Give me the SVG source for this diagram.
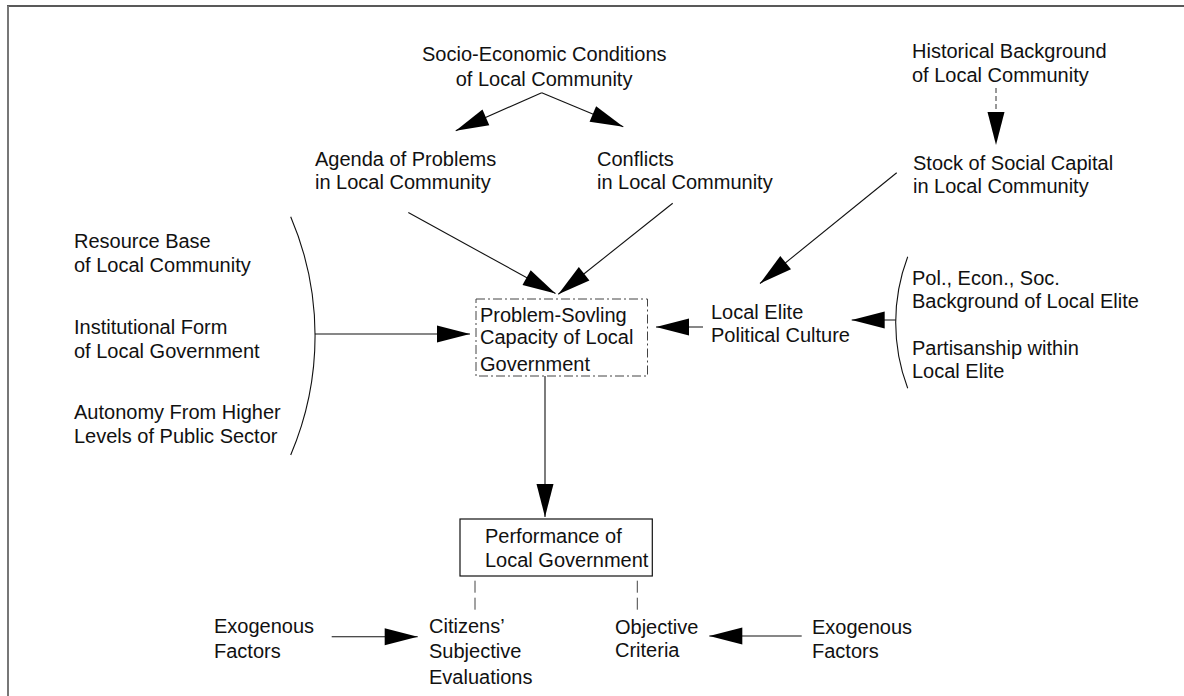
<svg xmlns="http://www.w3.org/2000/svg" width="1184" height="696" viewBox="0 0 1184 696">
<style>
  text { font-family: "Liberation Sans", Arial, sans-serif; font-size: 20px; fill: #111; }
  .ln { stroke: #111; stroke-width: 1.1; fill: none; }
  .arr { marker-end: url(#head); }
  .dash { stroke: #333; stroke-width: 1; stroke-dasharray: 5 3; fill: none; }
  .ldash { stroke: #444; stroke-width: 1; stroke-dasharray: 12 5; fill: none; }
</style>
<defs>
  <marker id="head" markerUnits="userSpaceOnUse" markerWidth="34" markerHeight="18" refX="33" refY="8.5" orient="auto" overflow="visible">
    <path d="M0,0 L33,8.5 L0,17 z" fill="#000"/>
  </marker>
</defs>
<rect width="1184" height="696" fill="#fff"/>
<g id="frame">
  <line x1="7" y1="6" x2="1184" y2="6" stroke="#222" stroke-width="1.6"/>
  <line x1="8" y1="6" x2="8" y2="696" stroke="#777" stroke-width="2"/>
</g>
<g id="connectors">
  <line class="ln arr" x1="541.7" y1="92.7" x2="455.7" y2="130.7"/>
  <line class="ln arr" x1="541.7" y1="92.7" x2="623.3" y2="126.7"/>
  <line class="dash" x1="996" y1="88" x2="996" y2="116"/>
  <path d="M987.5,112 L996,145 L1004.5,112 z" fill="#000"/>
  <line class="ln arr" x1="408.3" y1="212.5" x2="555.5" y2="293.5"/>
  <line class="ln arr" x1="672.7" y1="203.3" x2="558.3" y2="294.3"/>
  <line class="ln arr" x1="896.7" y1="172.7" x2="760" y2="283.5"/>
  <path class="ln" d="M290.7,216.7 A303.5,303.5 0 0 1 290.7,455"/>
  <line class="ln arr" x1="315" y1="334" x2="470" y2="334"/>
  <path class="ln" d="M907.7,256.7 A186.4,186.4 0 0 0 907.7,388.3"/>
  <line class="ln arr" x1="895.7" y1="320" x2="851.7" y2="320"/>
  <line class="ln arr" x1="703" y1="327" x2="656" y2="327"/>
  <line class="ln arr" x1="545" y1="376" x2="545" y2="517"/>
  <line class="ldash" x1="475" y1="580.7" x2="475" y2="613"/>
  <line class="ldash" x1="637.3" y1="580.7" x2="637.3" y2="613"/>
  <line class="ln arr" x1="331.7" y1="636.7" x2="417.7" y2="636.7"/>
  <line class="ln arr" x1="801.7" y1="636" x2="709.3" y2="636"/>
</g>
<g id="n-socio">
  <text x="422" y="61">Socio-Economic Conditions</text>
  <text x="455.7" y="86">of Local Community</text>
</g>
<g id="n-historical">
  <text x="912" y="58">Historical Background</text>
  <text x="912" y="82">of Local Community</text>
</g>
<g id="n-agenda">
  <text x="315" y="166">Agenda of Problems</text>
  <text x="315" y="189">in Local Community</text>
</g>
<g id="n-conflicts">
  <text x="597" y="166">Conflicts</text>
  <text x="597" y="189">in Local Community</text>
</g>
<g id="n-stock">
  <text x="913" y="170">Stock of Social Capital</text>
  <text x="913" y="193">in Local Community</text>
</g>
<g id="n-resource">
  <text x="74" y="248">Resource Base</text>
  <text x="74" y="272">of Local Community</text>
</g>
<g id="n-institutional">
  <text x="74" y="334">Institutional Form</text>
  <text x="74" y="358">of Local Government</text>
</g>
<g id="n-autonomy">
  <text x="74" y="419">Autonomy From Higher</text>
  <text x="74" y="443">Levels of Public Sector</text>
</g>
<g id="n-capacity">
  <rect x="476" y="299" width="171.5" height="77" fill="none" stroke="#444" stroke-width="1" stroke-dasharray="9 3 2 3"/>
  <text x="480" y="322">Problem-Sovling</text>
  <text x="480" y="344">Capacity of Local</text>
  <text x="480" y="371">Government</text>
</g>
<g id="n-elite">
  <text x="711" y="319">Local Elite</text>
  <text x="711" y="342">Political Culture</text>
</g>
<g id="n-background">
  <text x="912" y="285">Pol., Econ., Soc.</text>
  <text x="912" y="308">Background of Local Elite</text>
</g>
<g id="n-partisanship">
  <text x="912" y="355">Partisanship within</text>
  <text x="912" y="378">Local Elite</text>
</g>
<g id="n-performance">
  <rect x="460" y="519" width="192.3" height="57" fill="none" stroke="#111" stroke-width="1.2"/>
  <text x="485" y="543">Performance of</text>
  <text x="485" y="567">Local Government</text>
</g>
<g id="n-exo-left">
  <text x="214" y="633">Exogenous</text>
  <text x="214" y="658">Factors</text>
</g>
<g id="n-citizens">
  <text x="429" y="633">Citizens’</text>
  <text x="429" y="658">Subjective</text>
  <text x="429" y="684">Evaluations</text>
</g>
<g id="n-objective">
  <text x="615" y="634">Objective</text>
  <text x="615" y="657">Criteria</text>
</g>
<g id="n-exo-right">
  <text x="812" y="634">Exogenous</text>
  <text x="812" y="658">Factors</text>
</g>
</svg>
